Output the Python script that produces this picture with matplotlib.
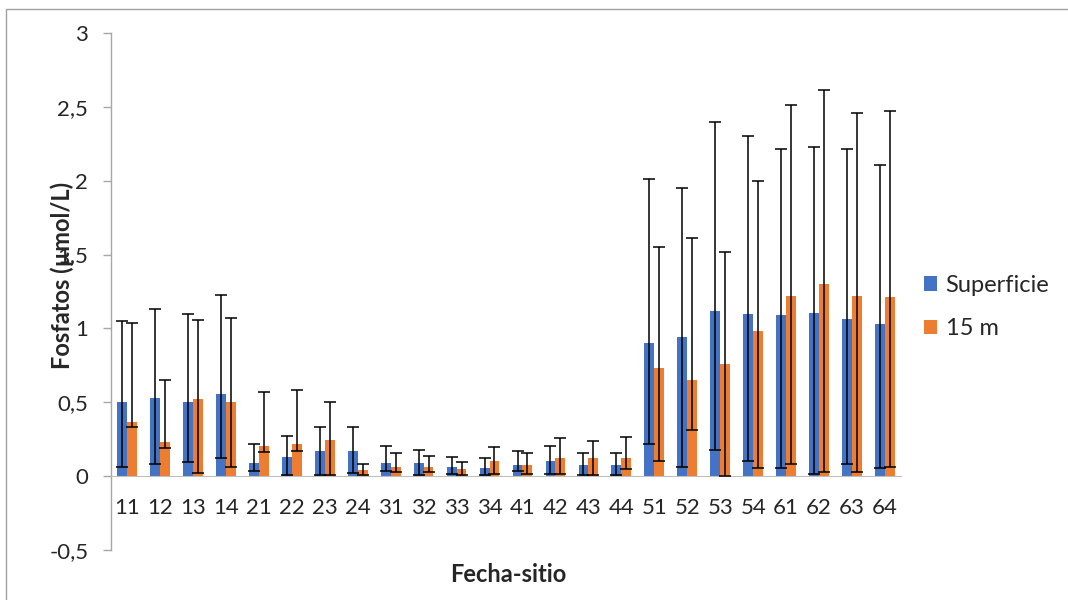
import numpy as np
import matplotlib.pyplot as plt
from matplotlib.ticker import FuncFormatter
from matplotlib.patches import Rectangle

plt.rcParams['font.family'] = ['Lato', 'DejaVu Sans']

# Fecha-sitio
cats = ['11', '12', '13', '14', '21', '22', '23', '24', '31', '32', '33', '34',
        '41', '42', '43', '44', '51', '52', '53', '54', '61', '62', '63', '64']

# Superficie: media y extremos de la barra de error
sup = [0.50, 0.53, 0.50, 0.555, 0.09, 0.13, 0.17, 0.17, 0.09, 0.09, 0.065, 0.055,
       0.075, 0.10, 0.075, 0.075, 0.90, 0.945, 1.115, 1.10, 1.09, 1.105, 1.065, 1.03]
sup_hi = [1.05, 1.13, 1.095, 1.225, 0.215, 0.27, 0.335, 0.335, 0.205, 0.18, 0.13, 0.12,
          0.17, 0.205, 0.155, 0.155, 2.01, 1.95, 2.40, 2.30, 2.215, 2.225, 2.215, 2.105]
sup_lo = [0.06, 0.08, 0.095, 0.12, 0.035, 0.01, 0.01, 0.02, 0.035, 0.005, 0.015, 0.005,
          0.035, 0.015, 0.005, 0.005, 0.215, 0.065, 0.175, 0.105, 0.055, 0.015, 0.085, 0.055]

# 15 m
m15 = [0.365, 0.23, 0.52, 0.505, 0.205, 0.215, 0.245, 0.04, 0.065, 0.065, 0.045, 0.10,
       0.075, 0.125, 0.125, 0.12, 0.73, 0.65, 0.76, 0.98, 1.22, 1.30, 1.22, 1.21]
m15_hi = [1.04, 0.65, 1.06, 1.07, 0.57, 0.58, 0.50, 0.085, 0.155, 0.135, 0.095, 0.195,
          0.155, 0.255, 0.24, 0.265, 1.55, 1.615, 1.52, 2.00, 2.515, 2.615, 2.46, 2.475]
m15_lo = [0.33, 0.19, 0.02, 0.06, 0.165, 0.17, 0.01, 0.01, 0.025, 0.025, 0.005, 0.015,
          0.015, 0.015, 0.005, 0.045, 0.105, 0.31, 0.0, 0.055, 0.08, 0.03, 0.03, 0.06]

W, H = 1068, 600
fig = plt.figure(figsize=(W / 100, H / 100), dpi=100)
ax = fig.add_axes([110.5 / W, 1 - 550 / H, 791 / W, 517 / H])

x = np.arange(len(cats))
w = 0.30
azul, naranja = '#4472C4', '#ED7D31'
texto = '#262626'

ax.bar(x - w / 2, sup, w, color=azul, label='Superficie', zorder=2)
ax.bar(x + w / 2, m15, w, color=naranja, label='15 m', zorder=2)

for xs, ys, lo, hi in [(x - w / 2, sup, sup_lo, sup_hi), (x + w / 2, m15, m15_lo, m15_hi)]:
    ys = np.array(ys)
    err = [ys - np.array(lo), np.array(hi) - ys]
    ax.errorbar(xs, ys, yerr=err, fmt='none', ecolor='black', elinewidth=1.1,
                capsize=4.5, capthick=1.1, zorder=3)

ax.set_xlim(-0.5, len(cats) - 0.5)
ax.set_ylim(-0.5, 3)
ax.set_yticks(np.arange(-0.5, 3.01, 0.5))
ax.yaxis.set_major_formatter(FuncFormatter(lambda v, p: f'{v:g}'.replace('.', ',')))
ax.set_xticks(x)
ax.set_xticklabels(cats)

for s in ['top', 'right']:
    ax.spines[s].set_visible(False)
ax.spines['bottom'].set_position(('data', 0))
ax.spines['bottom'].set_color('#bfbfbf')
ax.spines['left'].set_color('#a6a6a6')
ax.spines['left'].set_linewidth(1.0)

ax.tick_params(axis='x', length=0, pad=16, labelsize=16, colors=texto)
ax.tick_params(axis='y', length=6, width=1.0, color='#a6a6a6', pad=10,
               labelsize=16, labelcolor=texto)

fig.text(62 / W, 1 - 275 / H, 'Fosfatos (µmol/L)', rotation=90, ha='center',
         va='center', fontsize=17, fontweight='bold', color=texto)
fig.text(508 / W, 1 - 575 / H, 'Fecha-sitio', ha='center', va='center',
         fontsize=17, fontweight='bold', color=texto)

fig.legend(loc='center left', bbox_to_anchor=(903 / W, 1 - 307 / H), frameon=False,
           fontsize=17, handlelength=0.55, handleheight=0.55, handletextpad=0.35,
           labelspacing=0.95, labelcolor=texto)

# marco del area del grafico
fig.patches.append(Rectangle((6 / W, -0.1), 1.2, 1 - 9 / H + 0.1, transform=fig.transFigure,
                             fill=False, edgecolor='#a0a0a0', linewidth=1.0))

fig.savefig('out.png', dpi=100)
